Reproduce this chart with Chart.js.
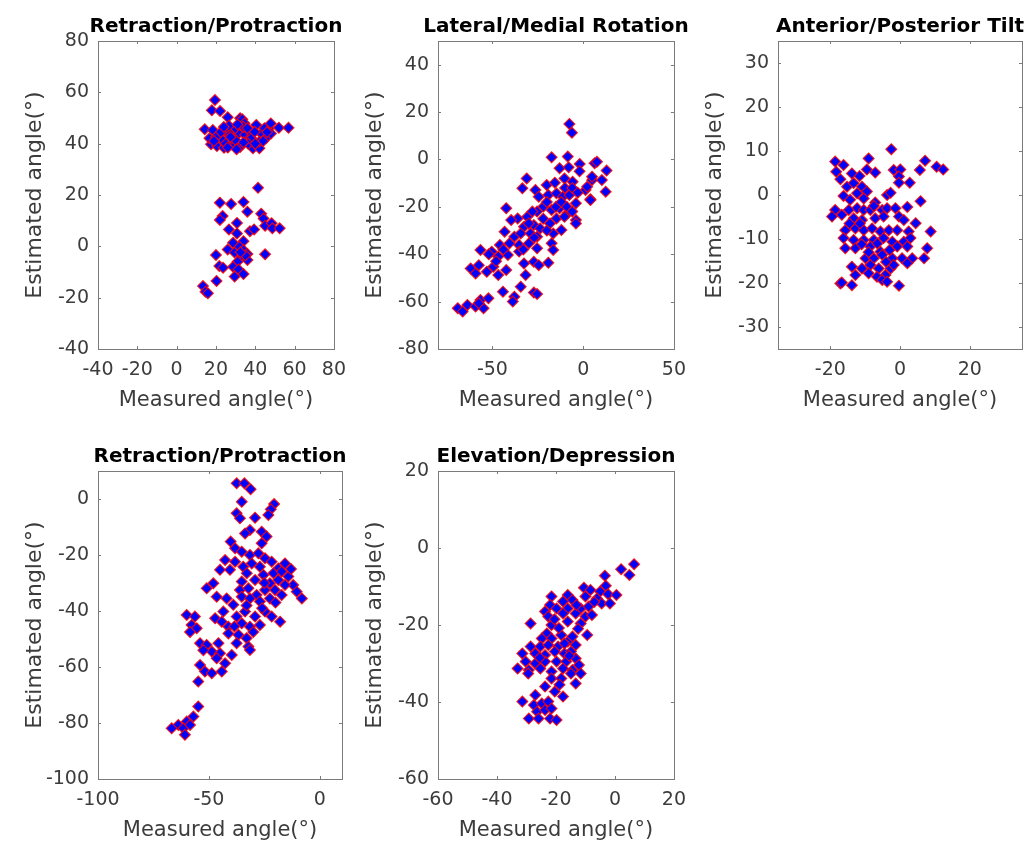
<!DOCTYPE html>
<html>
<head>
<meta charset="utf-8">
<script src="https://cdn.jsdelivr.net/npm/chart.js@4.4.0/dist/chart.umd.min.js"></script>
<style>
  body { margin: 0; background: #fff; width: 1029px; height: 843px; position: relative; overflow: hidden; }
  .panel { position: absolute; }
</style>
</head>
<body>
<div class="panel" id="p1"><canvas id="c1"></canvas></div>
<div class="panel" id="p2"><canvas id="c2"></canvas></div>
<div class="panel" id="p3"><canvas id="c3"></canvas></div>
<div class="panel" id="p4"><canvas id="c4"></canvas></div>
<div class="panel" id="p5"><canvas id="c5"></canvas></div>
<script>
// [measured, estimated] pairs
const retractionTopPts = [
  [19.5,57],[17.9,53],[22.1,52.7],[26,50.3],[32.3,49.9],[33.4,49.5],[34.5,48],[14.3,45.6],[18.4,45.3],
  [21.6,43.4],[24.9,44.7],[27.4,43.7],[31.5,44],[34.8,43.4],[37.2,44.7],[40.5,47.3],[43,44],[47,46],
  [47.9,47.9],[52,46.2],[56.9,46.2],[17.5,39.8],[20.5,39.1],[24.1,38.4],[28.2,39.8],[32.3,39.5],
  [35.6,41],[38.8,38.2],[42.1,38.2],[42.1,40.8],[45.4,42.1],[29.8,46],[33.9,46.6],[23.3,41.4],[29,42.1],
  [38,42.1],[16.7,42.1],[26.6,47],[36,46],[39.7,44.6],[44.7,46],[48,44],[30,41.3],[32.3,38.7],[25,40],
  [20,42.6],[27.4,42.6],[44,41],[36.4,40],[22.5,44.5],[31,47.5],[19,41],[26,38.5],[30.5,37.8],[40,40],
  [34,40.5],[46,44.5],[24,46.5],
  [41.4,22.8],[22,17],[27.7,16.5],[34,17.3],[23.4,11.8],[22,10.3],[36,13.5],[43,12.7],[44.2,10.8],
  [30.7,9.1],[26.6,6.6],[30.7,5],[37.3,5.9],[39.4,6.6],[45,8],[48.3,9],[48.7,7],[52.4,7],[28.7,1.4],
  [34,2],[26,-1.2],[29.5,-2.4],[32,-0.2],[34,-1.5],[36,-3],[33.2,-4],[31,-6],[36,-5.3],[20,-3.4],
  [45,-3.1],[21.7,-7.7],[23.6,-8.3],[28.7,-8],[31.5,-9],[29.5,-11.8],[34,-10.8],[20.3,-13.5],
  [13.4,-15.5],[14.7,-17.7],[15.9,-18.3],[35,-3.5],[32.5,-2.3]
];
const lateralMedialPts = [
  [-7.6,15],[-6.2,11.3],[-17.4,0.9],[-8.5,1.2],[-1.9,-1.9],[-13,-3.7],[-8,-3.3],[-10.3,-8],[-5.8,-9.4],
  [6.3,-1.6],[4.9,-8.7],[1.3,-12.9],[4,-16.8],[-31.1,-8],[-33.5,-12.2],[-26.3,-12.9],[-20.1,-10.8],
  [-15.6,-9.8],[-24.5,-15.7],[-19.2,-15],[-14.7,-14.3],[-11.2,-15.7],[-7.6,-15],[-4,-18.5],[-42.4,-20.6],
  [-36.1,-24.9],[-30.8,-24.2],[-25.4,-22],[-21.9,-19.9],[-17.4,-21.3],[-13,-20.6],[-8.5,-22.7],[-4,-25.6],
  [-39.7,-25.6],[-32.6,-28.4],[-27.2,-27.7],[-23.7,-29.1],[-18.3,-27],[-14.7,-24.9],[-10.3,-24.2],
  [-4,-27],[-43.3,-30.5],[-37.9,-32.6],[-34.4,-31.2],[-29,-31.2],[-25.4,-32.6],[-16.5,-31.2],[-12,-29.8],
  [-45.9,-36.1],[-40.6,-35.4],[-35.3,-36.1],[-29.9,-35.4],[-25.4,-37.5],[-17.4,-35.4],[-16.5,-38.2],
  [-56.6,-38.2],[-50.4,-38.9],[-46.8,-41],[-41.5,-40.3],[-35.3,-38.9],[-62,-46],[-57.5,-44.6],
  [-53.1,-47.4],[-49.5,-45.3],[-46.8,-48.8],[-42.4,-46.7],[-59.3,-48.1],[-32.6,-43.9],[-27.2,-43.2],
  [-24.5,-44.6],[-19.2,-43.6],[-31.7,-48.8],[-34.4,-53.7],[-44.2,-55.8],[-37.9,-57.9],[-38.8,-60],
  [-27.2,-56.2],[-25.4,-56.8],[-69.1,-62.8],[-66.4,-64.2],[-63.8,-61.4],[-59.3,-62.1],[-56.6,-59.3],
  [-52.2,-58.6],[-54.9,-62.8],[-57.5,-60.7],[7.6,-1],[10.3,-8.7],[12.9,-4.7],[12.4,-13.6],[4.9,-7.3],
  [4,-17.1],[2.2,-11.5],[-30,-27],[-28,-22],[-22,-25],[-20,-18],[-15,-20],[-12,-18],[-10,-12],[-6,-12],
  [-3,-14],[-2,-5],[-33,-38],[-48,-43],[-52,-40],[-44,-38],[-9,-20],[-20,-30],[-27,-33],[-6,-22]
];
const anteriorPosteriorPts = [
  [-2.5,10.4],[-18.6,7.6],[-16.2,6.8],[-9,8.3],[-9.5,5.8],[-7.1,5.1],[-18.3,5.3],[-13.8,4.9],[-11.6,4.3],
  [-1.8,5.7],[0.1,5.8],[-0.3,4.2],[-0.3,2.8],[2.8,2.8],[5.7,5.7],[7.2,7.8],[10.5,6.4],[12.4,5.8],
  [-17.1,3.6],[-15.2,1.9],[-13.3,2.7],[-10.9,1.9],[-9.5,0.8],[-12.3,0.4],[-10.4,-0.8],[-16.2,-0.2],
  [-14.3,-1.1],[-3.7,0],[-2.7,0.5],[5.9,-1.4],[-7.1,-1.7],[-12.3,-3],[-18.6,-3.4],[-19.5,-4.9],
  [-16.7,-4.5],[-14.7,-3.4],[-10.4,-3.4],[-8.5,-3.4],[-5.1,-3.4],[-3.7,-3],[-1.3,-3],[2.1,-2.7],
  [-13.3,-5.3],[-10.9,-5.7],[-7.1,-5.3],[-4.7,-4.9],[-0.3,-4.9],[1.1,-5.7],[4.5,-6.4],[-15.7,-8],
  [-12.8,-7.6],[-10.4,-8],[-8,-7.6],[-5.6,-8.3],[-3.2,-8],[-0.8,-8],[2.5,-8.3],[8.8,-8.3],[-16.2,-9.8],
  [-13.3,-10.2],[-10.4,-10.2],[-7.5,-10.2],[-4.7,-9.8],[-2.2,-10.6],[1.1,-10.6],[3,-9.8],[-15.7,-12.1],
  [-12.8,-12.1],[-8.5,-11.7],[-5.6,-12.9],[-0.8,-11.7],[2.1,-11.7],[7.8,-12.1],[-9.9,-14.4],[-7.5,-14.4],
  [-5.1,-13.6],[-2.2,-14.4],[0.6,-14.4],[3.5,-14.4],[6.9,-14.4],[2.1,-15.5],[-13.8,-16.3],[-10.9,-16.7],
  [-8.5,-15.9],[-6.1,-16.7],[-2.7,-16.7],[-1.8,-15.9],[-12.8,-18.2],[-9,-17.8],[-6.6,-18.6],[-4.2,-18.2],
  [-5.1,-19.3],[-17.1,-20.1],[-13.8,-20.5],[-3.7,-19.7],[-0.3,-20.6],[-16.7,-19.9],
  [-11.5,-6.5],[-6.5,-11],[-9,-13],[-3,-12.5],[-14.5,-6.5],[-7.5,-2.5],[-11,-11.2],[-4,-15.2]
];
const retractionBottomPts = [
  [-37.5,5.6],[-34,5.6],[-31.2,3.5],[-35.2,-1],[-20.6,-1.8],[-22.1,-3.7],[-23.2,-5.7],[-37.5,-5.1],
  [-36,-6.9],[-29.2,-6.7],[-31.5,-11.1],[-33.7,-12.3],[-26.2,-11.7],[-24,-13.4],[-26.2,-15.8],[-40.2,-15.2],
  [-38.2,-17.6],[-35.2,-18.8],[-31.5,-20],[-27.7,-19.4],[-24.7,-21.2],[-21.7,-22.4],[-42.7,-21.8],
  [-38.2,-22.4],[-34.5,-24.2],[-30.7,-23],[-27,-24.2],[-18.7,-24.8],[-15.7,-23],[-45,-25.3],[-40.5,-25.3],
  [-32.9,-26.5],[-25.4,-27.1],[-20.9,-26.5],[-17.2,-25.9],[-14.2,-27.7],[-48,-30.1],[-51,-31.9],
  [-35.2,-29.5],[-29.2,-28.9],[-22.5,-30.1],[-18.7,-28.9],[-12,-30.7],[-36,-32.5],[-32.2,-31.9],
  [-28.5,-34.3],[-24.7,-32.5],[-20.2,-32.5],[-15.7,-30.7],[-10.4,-33.1],[-8.1,-35.5],[-46.5,-34.9],
  [-42,-35.5],[-39,-37.8],[-35.2,-34.9],[-31.5,-35.5],[-27,-36.6],[-22.5,-35.5],[-17.2,-34.3],[-60,-41.4],
  [-56.3,-42],[-47.2,-42.6],[-43.5,-40.2],[-37.5,-42],[-33.7,-40.2],[-29.2,-42],[-24.7,-40.2],[-21.7,-42],
  [-17.9,-43.8],[-57.8,-45],[-55.5,-46.2],[-44.2,-43.8],[-41.2,-45.6],[-35.2,-44.4],[-31.5,-45.6],
  [-27,-45],[-41.2,-48],[-36.7,-48.5],[-33,-49.7],[-54,-51.5],[-51,-52.1],[-45.7,-51.5],[-37.5,-51.5],
  [-32.2,-52.7],[-48.7,-54.5],[-45,-55.1],[-39.7,-55.7],[-31.5,-53.9],[-46.5,-56.9],[-54,-59.3],
  [-51.8,-61.6],[-48.7,-62.2],[-42.7,-58.7],[-44.2,-61.6],[-54.8,-65.2],[-54.8,-74.1],[-57,-77.7],
  [-60,-79.5],[-63.8,-80.7],[-66.8,-81.9],[-61.5,-81.9],[-58.5,-80.7],[-60.8,-84.2],
  [-33,-38],[-26,-39],[-30,-47.5],[-38.5,-45.5],[-20,-37],[-25,-30],[-13,-25],[-58.5,-47.5],[-52.5,-54]
];
const elevationDepressionPts = [
  [2.1,-5.5],[-3.4,-7.2],[-3.1,-9.8],[-10.5,-10.3],[-8.3,-10.9],[-5,-11.3],[-2.3,-12],[0.5,-12.2],
  [-6.1,-13.1],[-4.5,-14.4],[-1.7,-14.4],[-10,-12.6],[-21.5,-12.6],[-16,-12.2],[-14.4,-13.5],[-17.6,-13.9],
  [-22,-14.8],[-16,-15.7],[-11.6,-15.7],[-8.9,-15.2],[-23.7,-16.5],[-19.8,-15.7],[-28.6,-19.6],
  [-22.6,-17.8],[-17.6,-17],[-13.3,-17],[-10,-17.8],[-7.8,-17.4],[-21.5,-20],[-16,-19.1],[-11.6,-19.6],
  [-9.4,-22.6],[-23.1,-22.2],[-24.8,-23.5],[-21.5,-23.5],[-18.2,-22.6],[-16,-24.3],[-14.4,-23],
  [-28.6,-25.6],[-25.3,-25.6],[-22.6,-25.2],[-19.3,-25.6],[-17.1,-24.8],[-13.3,-25.2],[-31.4,-27.4],
  [-27,-27.4],[-23.7,-27.8],[-20.4,-26.9],[-17.1,-27.4],[-14.9,-26.9],[-30.3,-29.5],[-27,-30],
  [-23.7,-29.5],[-19.8,-29.5],[-16.5,-29.5],[-13.3,-28.7],[-33,-31.3],[-29.2,-31.7],[-25.3,-31.3],
  [-21.5,-32.1],[-17.6,-31.3],[-14.4,-31.7],[-12.2,-30.4],[-29.4,-32.6],[-21.5,-33.9],[-18.2,-33.9],
  [-14.9,-32.6],[-11.6,-32.6],[-13.3,-35.2],[-23.7,-36],[-27,-38.2],[-20.4,-37.3],[-17.6,-38.6],
  [-31.4,-39.9],[-27.5,-40.8],[-24.8,-40.4],[-22.6,-39.9],[-26.4,-42.5],[-23.7,-42.1],[-21.5,-41.7],
  [-29.2,-44.3],[-25.9,-44.3],[-22,-44.3],[-19.8,-44.7],[4.9,-7],[6.5,-4.2],
  [-12.5,-21],[-19,-20.8],[-15.5,-28],[-25.5,-28.5],[-18.8,-35.5],[-7,-14],[-13,-14.8],[-20.5,-18.5]
];

const titles = ["Retraction/Protraction", "Lateral/Medial Rotation", "Anterior/Posterior Tilt",
                "Retraction/Protraction", "Elevation/Depression"];
const xLabel = "Measured angle(°)";
const yLabel = "Estimated angle(°)";

const xTicks1 = [-40, -20, 0, 20, 40, 60, 80];
const yTicks1 = [-40, -20, 0, 20, 40, 60, 80];
const xTicks2 = [-50, 0, 50];
const yTicks2 = [-80, -60, -40, -20, 0, 20, 40];
const xTicks3 = [-20, 0, 20];
const yTicks3 = [-30, -20, -10, 0, 10, 20, 30];
const xTicks4 = [-100, -50, 0];
const yTicks4 = [-100, -80, -60, -40, -20, 0];
const xTicks5 = [-60, -40, -20, 0, 20];
const yTicks5 = [-60, -40, -20, 0, 20];

const PLOT_W = 244, PLOT_H = 308;
const LEFT_SPACE = 95, TOP_SPACE = 41, BOTTOM_SPACE = 70, RIGHT_SPACE = 14;

const panels = [
  { n: 1, left: 98,  top: 41,  pts: retractionTopPts,      x: [-40, 80],  y: [-40, 80],  xt: xTicks1, yt: yTicks1 },
  { n: 2, left: 438, top: 41,  pts: lateralMedialPts,      x: [-80, 50],  y: [-80, 50],  xt: xTicks2, yt: yTicks2 },
  { n: 3, left: 778, top: 41,  pts: anteriorPosteriorPts,  x: [-35, 35],  y: [-35, 35],  xt: xTicks3, yt: yTicks3 },
  { n: 4, left: 98,  top: 471, pts: retractionBottomPts,   x: [-100, 10], y: [-100, 10], xt: xTicks4, yt: yTicks4 },
  { n: 5, left: 438, top: 471, pts: elevationDepressionPts, x: [-60, 20], y: [-60, 20], xt: xTicks5, yt: yTicks5 }
];

// box around the axes, inward ticks on all sides, title centred over the axes
const matlabAxes = {
  id: "matlabAxes",
  afterDraw(chart, args, opts) {
    const { ctx, chartArea: a, scales } = chart;
    ctx.save();
    ctx.strokeStyle = "#7a7a7a";
    ctx.lineWidth = 1;
    ctx.strokeRect(Math.round(a.left) + 0.5, Math.round(a.top) + 0.5,
                   Math.round(a.right - a.left), Math.round(a.bottom - a.top));
    ctx.beginPath();
    scales.x.ticks.forEach(t => {
      const px = Math.round(scales.x.getPixelForValue(t.value)) + 0.5;
      ctx.moveTo(px, a.bottom); ctx.lineTo(px, a.bottom - 3);
      ctx.moveTo(px, a.top); ctx.lineTo(px, a.top + 3);
    });
    scales.y.ticks.forEach(t => {
      const py = Math.round(scales.y.getPixelForValue(t.value)) + 0.5;
      ctx.moveTo(a.left, py); ctx.lineTo(a.left + 3, py);
      ctx.moveTo(a.right, py); ctx.lineTo(a.right - 3, py);
    });
    ctx.stroke();
    ctx.fillStyle = "#000";
    ctx.font = "bold 20px 'DejaVu Sans'";
    ctx.textAlign = "center";
    ctx.textBaseline = "alphabetic";
    ctx.fillText(opts.text, (a.left + a.right) / 2, a.top - 9);
    ctx.restore();
  }
};

panels.forEach((p, i) => {
  const w = LEFT_SPACE + PLOT_W + RIGHT_SPACE;
  const h = TOP_SPACE + PLOT_H + BOTTOM_SPACE;
  const box = document.getElementById("p" + p.n);
  box.style.left = (p.left - LEFT_SPACE) + "px";
  box.style.top = (p.top - TOP_SPACE) + "px";
  const canvas = document.getElementById("c" + p.n);
  canvas.width = w; canvas.height = h;
  canvas.style.width = w + "px"; canvas.style.height = h + "px";

  new Chart(canvas.getContext("2d"), {
    type: "scatter",
    data: {
      datasets: [{
        data: p.pts.map(([x, y]) => ({ x, y })),
        pointStyle: "rectRot",
        pointRadius: 5.4,
        pointBackgroundColor: "#0000ff",
        pointBorderColor: "rgba(255,0,0,0.85)",
        pointBorderWidth: 1.2,
        pointHoverRadius: 5.4
      }]
    },
    options: {
      responsive: false,
      animation: false,
      layout: { padding: { left: 0, top: TOP_SPACE, right: RIGHT_SPACE, bottom: 0 } },
      plugins: {
        legend: { display: false },
        tooltip: { enabled: false },
        matlabAxes: { text: titles[i] }
      },
      scales: {
        x: {
          type: "linear",
          min: p.x[0], max: p.x[1],
          afterBuildTicks: s => { s.ticks = p.xt.map(v => ({ value: v })); },
          afterFit: s => { s.height = BOTTOM_SPACE; },
          grid: { display: false, drawTicks: false },
          border: { display: false },
          ticks: { color: "#3c3c3c", font: { family: "DejaVu Sans", size: 19 }, padding: 10, maxRotation: 0 },
          title: { display: true, text: xLabel, color: "#3c3c3c",
                   font: { family: "DejaVu Sans", size: 21, lineHeight: 1 }, padding: { top: 0, bottom: 8 } }
        },
        y: {
          type: "linear",
          min: p.y[0], max: p.y[1],
          afterBuildTicks: s => { s.ticks = p.yt.map(v => ({ value: v })); },
          afterFit: s => { s.width = LEFT_SPACE; },
          grid: { display: false, drawTicks: false },
          border: { display: false },
          ticks: { color: "#3c3c3c", font: { family: "DejaVu Sans", size: 19 }, padding: 9 },
          title: { display: true, text: yLabel, color: "#3c3c3c",
                   font: { family: "DejaVu Sans", size: 22, lineHeight: 1 }, padding: { top: 21, bottom: 0 } }
        }
      }
    },
    plugins: [matlabAxes]
  });
});
</script>
</body>
</html>
